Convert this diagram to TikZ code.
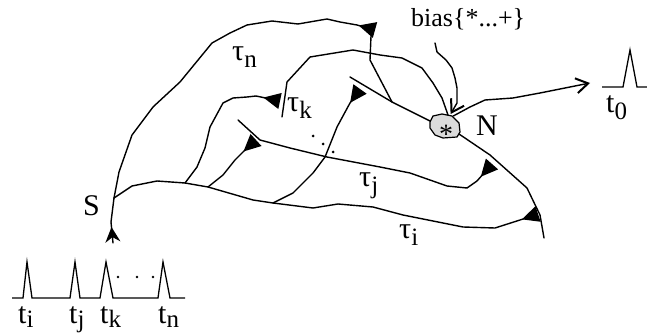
\documentclass[tikz,border=0pt]{standalone}
\usepackage{fontspec}
\setmainfont{Liberation Serif}
\usetikzlibrary{arrows.meta,decorations.markings}
\newcommand{\bigf}{\fontsize{30}{30}\selectfont}
\newcommand{\subf}{\fontsize{25}{25}\selectfont}
\newcommand{\tsb}[2]{#1\raisebox{-7pt}{\subf #2}}
\newcommand{\tsc}[2]{#1\raisebox{-5pt}{\subf #2}}
\tikzset{
  wire/.style={line width=1.4pt, line join=round, line cap=round},
  syn/.style={wire, -{Triangle[reversed,length=17pt,width=16pt]}},
  barb/.style={wire, -{Straight Barb[length=12pt,width=15pt,line width=2pt]}},
  lbl/.style={inner sep=0pt, anchor=base west, font=\bigf},
  pulse/.style={line width=1.3pt, line join=miter},
}
\begin{document}
\begin{tikzpicture}[x=1pt,y=-1pt]
\useasboundingbox (0,0) rectangle (647,336);

% junction coordinates on the tau_i trunk
\coordinate (S0) at (113,243);
\coordinate (Sj) at (114,198);
\coordinate (Jk) at (185,183);
\coordinate (Ja) at (208,187);
\coordinate (Jb) at (273,203);

% soma N
\draw[line width=1.2pt, fill=gray!28] (430,122) -- (433,116) -- (442,114) -- (452,116) -- (459,123) -- (460,132) -- (457,137) -- (443,138) -- (435,135) -- (430,128) -- cycle;
\node[inner sep=0pt, minimum size=26pt, circle] (N) at (445,126) {};
\node[inner sep=0pt, font=\fontsize{28}{28}\selectfont] (star) at (446,134) {*};

% main dendrite through N
\draw[wire] (350,77) -- (392,102) -- (430,121);
\draw[wire] (459,134) -- (490,155) -- (527,188) -- (540,215) -- (544,238);
% upper branch into N
\draw[wire] (282,117) -- (287,82) -- (310,57) -- (353,50) -- (380,55) -- (402,58) -- (422,68) -- (433,83) -- (442,98) -- (448,115);
% short vertical branch
\draw[wire] (371,36) -- (370,60) -- (392,102);

% trunk from S and outer tau_n path
\draw[wire, decoration={markings, mark=at position 16pt with {\arrow{Stealth[length=15pt,width=15pt]}}}, postaction={decorate}]
  (S0) -- (111,222) -- (Sj);
\draw[syn] (Sj) -- (119,172) -- (132,135) -- (153,107) -- (180,82) -- (212,43) -- (230,33) -- (247,25) -- (272,21) -- (298,24) -- (327,19) -- (340,22) -- (357,25) -- (375,30);
% tau_i trunk
\draw[syn] (Sj) -- (132,186) -- (157,181) -- (Jk) -- (Ja) -- (253,200) -- (Jb) -- (313,208) -- (338,204) -- (373,207) -- (403,215) -- (463,227) -- (495,228) -- (520,220) -- (538,214);
% tau_k
\draw[syn] (Jk) -- (197,167) -- (205,148) -- (210,127) -- (223,103) -- (233,98) -- (247,97) -- (256,96) -- (280,101);
% branch to tau_j start
\draw[syn] (Ja) -- (223,175) -- (235,160) -- (244,151) -- (256,140);
% tau_j
\draw[syn] (238,120) -- (260,140) -- (290,148) -- (327,157) -- (380,167) -- (410,173) -- (447,186) -- (467,188) -- (477,181) -- (492,164);
% branch from trunk to main dendrite
\draw[syn] (Jb) -- (293,193) -- (313,173) -- (325,157) -- (337,127) -- (350,103) -- (360,89);

% dots
\foreach \p/\q in {313/136, 323/144, 333/152} \fill (\p,\q) circle (1.5pt);

% labels
\node[lbl] (ln) at (232,61) {\tsb{τ}{n}};
\node[lbl] (lk) at (287,112) {\tsb{τ}{k}};
\node[lbl] (lj) at (359,187) {\tsb{τ}{j}};
\node[lbl] (li) at (399,239) {\tsb{τ}{i}};
\node[lbl] (lS) at (83,216) {S};
\node[lbl] (lN) at (476,136) {N};
\node[lbl, font=\fontsize{26}{26}\selectfont] (bias) at (411,27) {bias\{*...+\}};

% bias input
\coordinate (b0) at (435,43);
\draw[barb] (b0) -- (437,52) -- (446,60) -- (452,68) -- (455,78) -- (457,88) -- (457,103) -- (N.65);
% output
\coordinate (o1) at (590,83);
\draw[barb] (N.50) -- (470,107) -- (485,100) -- (513,98) -- (540,93) -- (o1);

% output pulse
\draw[pulse] (602,87) -- (623,87) -- (630,50) -- (637,87) -- (647,87);
\node[lbl] (t0) at (606,113) {\tsb{t}{0}};

% input pulse train
\draw[pulse] (12,298) -- (23,298) -- (27,262) -- (32,298) -- (70,298) -- (75,262) -- (80,298) -- (100,298) -- (106,262) -- (113,298) -- (158,298) -- (163,262) -- (170,298) -- (185,298);
\foreach \p in {118,137,153} \fill (\p,277) circle (1.4pt);
\node[lbl] (ti) at (18,323) {\tsc{t}{i}};
\node[lbl] (tj) at (69,323) {\tsc{t}{j}};
\node[lbl] (tk) at (100,323) {\tsc{t}{k}};
\node[lbl] (tn) at (158,323) {\tsc{t}{n}};
\end{tikzpicture}
\end{document}
